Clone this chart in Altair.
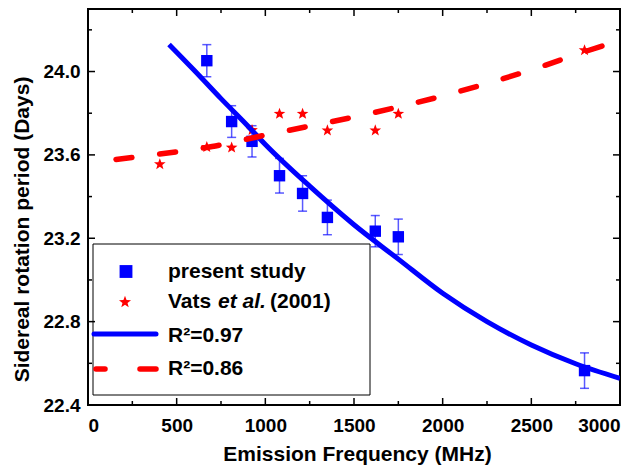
import math
import altair as alt
import pandas as pd

FONT = "Liberation Sans"

# ---------------- data ----------------
freq_present = [670, 810, 925, 1080, 1210, 1350, 1620, 1750, 2800]
period_present = [24.052, 23.760, 23.665, 23.500, 23.415, 23.300, 23.234, 23.207, 22.565]
err_present = [0.077, 0.076, 0.075, 0.083, 0.085, 0.083, 0.075, 0.085, 0.085]

freq_vats = [405, 670, 810, 925, 1080, 1210, 1350, 1620, 1750, 2800]
period_vats = [23.558, 23.640, 23.638, 23.722, 23.800, 23.800, 23.720, 23.720, 23.800, 24.105]

fit1_freq = [457, 600, 750, 900, 1000, 1250, 1500, 1750, 2000, 2250, 2500, 2750, 3000]
fit1_val = [24.130, 24.005, 23.870, 23.740, 23.650, 23.450, 23.265, 23.100, 22.936, 22.800, 22.688, 22.598, 22.528]

fit2_freq = [158, 500, 700, 1000, 1250, 1500, 2000, 2500, 2800, 3000]
fit2_val = [23.578, 23.615, 23.640, 23.695, 23.738, 23.782, 23.883, 24.008, 24.095, 24.150]

x_major = [0, 500, 1000, 1500, 2000, 2500, 3000]
x_minor = [250, 750, 1250, 1750, 2250, 2750]
y_major = [22.4, 22.8, 23.2, 23.6, 24.0]
y_minor = [22.6, 23.0, 23.4, 23.8, 24.2]

legend_labels = ["present study", "Vats ", "et al.", "(2001)", "R\u00b2=0.97", "R\u00b2=0.86"]
x_title = "Emission Frequency (MHz)"
y_title = "Sidereal rotation period (Days)"

# ---------------- tables ----------------
df_present = pd.DataFrame({
    "f": freq_present,
    "v": period_present,
    "lo": [p - e for p, e in zip(period_present, err_present)],
    "hi": [p + e for p, e in zip(period_present, err_present)],
})
df_vats = pd.DataFrame({"f": freq_vats, "v": period_vats})
df_fit1 = pd.DataFrame({"f": fit1_freq, "v": fit1_val})
df_fit2 = pd.DataFrame({"f": fit2_freq, "v": fit2_val})

W, H = 532, 396
BLUE = "#0000ff"
RED = "#ff0000"

x_enc = alt.X(
    "f:Q",
    scale=alt.Scale(domain=[0, 3000], nice=False, zero=False),
    axis=alt.Axis(
        values=x_major, format="d", ticks=False, tickSize=0, domain=False, grid=False,
        labelFont=FONT, labelFontSize=19, labelFontWeight="bold", labelColor="black",
        labelBaseline="alphabetic", labelPadding=26,
        title=x_title, titleFont=FONT, titleFontSize=21, titleFontWeight="bold",
        titleColor="black", titleBaseline="alphabetic", titleY=55, titleX=269,
    ),
)
y_enc = alt.Y(
    "v:Q",
    scale=alt.Scale(domain=[22.4, 24.3], nice=False, zero=False),
    axis=alt.Axis(
        values=y_major, format=".1f", ticks=False, tickSize=0, domain=False, grid=False,
        labelFont=FONT, labelFontSize=19, labelFontWeight="bold", labelColor="black",
        labelPadding=8,
        title=y_title, titleFont=FONT, titleFontSize=21, titleFontWeight="bold",
        titleColor="black", titleAngle=270, titleBaseline="alphabetic",
        titleAlign="center", titleX=-60, titleY=220,
    ),
)

# star symbol (unit geometry)
pts = []
for i in range(10):
    r = 1.0 if i % 2 == 0 else 0.42
    a = -math.pi / 2 + i * math.pi / 5
    pts.append(f"{r*math.cos(a):.3f},{r*math.sin(a)+0.1:.3f}")
STAR = "M" + "L".join(pts) + "Z"

layers = []

# legend box
one = pd.DataFrame({"k": [0]})
layers.append(
    alt.Chart(one).mark_rect(fill="white", stroke="black", strokeWidth=1).encode(
        x=alt.value(5), x2=alt.value(282), y=alt.value(235), y2=alt.value(386)
    )
)

# inward ticks on all four sides
tick_style = dict(color="black", strokeWidth=1.5)
for vals, ln in ((x_major, 7), (x_minor, 4)):
    d = pd.DataFrame({"f": vals})
    layers.append(alt.Chart(d).mark_rule(**tick_style).encode(x=x_enc, y=alt.value(H), y2=alt.value(H - ln)))
    layers.append(alt.Chart(d).mark_rule(**tick_style).encode(x=x_enc, y=alt.value(0), y2=alt.value(ln)))
for vals, ln in ((y_major, 7), (y_minor, 4)):
    d = pd.DataFrame({"v": vals})
    layers.append(alt.Chart(d).mark_rule(**tick_style).encode(y=y_enc, x=alt.value(0), x2=alt.value(ln)))
    layers.append(alt.Chart(d).mark_rule(**tick_style).encode(y=y_enc, x=alt.value(W), x2=alt.value(W - ln)))

# error bars
base_p = alt.Chart(df_present)
layers.append(base_p.mark_rule(color=BLUE, opacity=0.65, strokeWidth=1.5).encode(
    x=x_enc, y=alt.Y("lo:Q"), y2="hi:Q"))
layers.append(base_p.mark_tick(color=BLUE, opacity=0.65, orient="horizontal", size=9, thickness=1.5).encode(
    x=x_enc, y=alt.Y("lo:Q")))
layers.append(base_p.mark_tick(color=BLUE, opacity=0.65, orient="horizontal", size=9, thickness=1.5).encode(
    x=x_enc, y=alt.Y("hi:Q")))
# squares
layers.append(base_p.mark_point(shape="square", filled=True, color=BLUE, opacity=1, size=130).encode(
    x=x_enc, y=y_enc))
# stars
layers.append(alt.Chart(df_vats).mark_point(shape=STAR, filled=True, color=RED, opacity=1, size=150).encode(
    x=x_enc, y=y_enc))
# fits
layers.append(alt.Chart(df_fit1).mark_line(color=BLUE, strokeWidth=5, interpolate="monotone", clip=True).encode(
    x=x_enc, y=y_enc))
layers.append(alt.Chart(df_fit2).mark_line(color=RED, strokeWidth=5.5, strokeDash=[16, 28], strokeCap="round",
                                           interpolate="monotone", clip=True).encode(x=x_enc, y=y_enc))

# legend contents
layers.append(alt.Chart(one).mark_point(shape="square", filled=True, color=BLUE, opacity=1, size=165).encode(
    x=alt.value(38), y=alt.value(262.5)))
layers.append(alt.Chart(one).mark_point(shape=STAR, filled=True, color=RED, opacity=1, size=160).encode(
    x=alt.value(37), y=alt.value(292.5)))
layers.append(alt.Chart(one).mark_rule(color=BLUE, strokeWidth=5, strokeCap="round").encode(
    x=alt.value(6), x2=alt.value(68), y=alt.value(325)))
layers.append(alt.Chart(one).mark_rule(color=RED, strokeWidth=5.5, strokeCap="round").encode(
    x=alt.value(8), x2=alt.value(17), y=alt.value(360)))
layers.append(alt.Chart(one).mark_rule(color=RED, strokeWidth=5.5, strokeCap="round").encode(
    x=alt.value(52), x2=alt.value(68), y=alt.value(360)))


def legend_text(s, x, y, style="normal"):
    return alt.Chart(pd.DataFrame({"t": [s]})).mark_text(
        align="left", baseline="alphabetic", font=FONT, fontSize=21, fontWeight="bold",
        fontStyle=style, color="black",
    ).encode(x=alt.value(x), y=alt.value(y), text="t:N")


layers.append(legend_text(legend_labels[0], 80, 269))
layers.append(legend_text(legend_labels[1], 80, 299))
layers.append(legend_text(legend_labels[2], 130, 299, "italic"))
layers.append(legend_text(legend_labels[3], 182, 299))
layers.append(legend_text(legend_labels[4], 80, 333))
layers.append(legend_text(legend_labels[5], 80, 366))

chart = alt.layer(*layers).properties(
    width=W, height=H,
    autosize=alt.AutoSizeParams(type="none"),
    padding={"left": 80, "top": 1, "right": 12, "bottom": 60},
).configure_view(stroke="black", strokeWidth=2)

chart.save("out.html", embed_options={"renderer": "svg", "actions": False})
